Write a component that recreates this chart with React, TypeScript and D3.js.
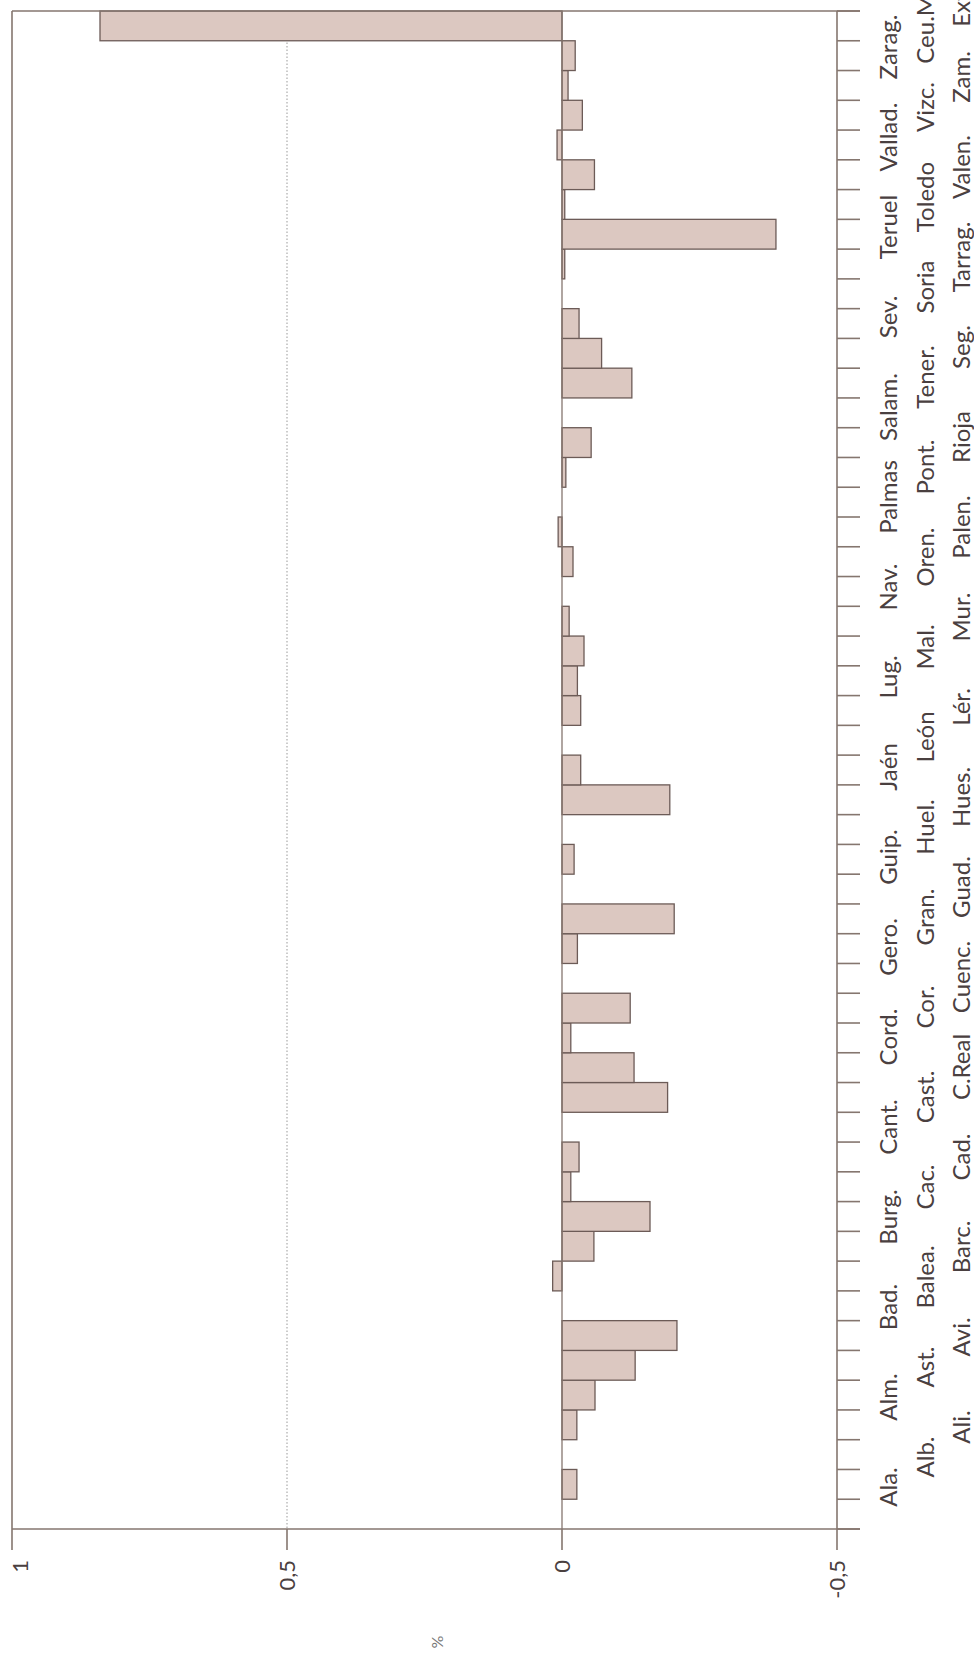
import * as d3 from 'd3'

// provinces, bottom (Ala.) to top (Extr.)
const provinces = [
  'Ala.', 'Alb.', 'Ali.', 'Alm.', 'Ast.', 'Avi.', 'Bad.', 'Balea.', 'Barc.', 'Burg.',
  'Cac.', 'Cad.', 'Cant.', 'Cast.', 'C.Real', 'Cord.', 'Cor.', 'Cuenc.', 'Gero.', 'Gran.',
  'Guad.', 'Guip.', 'Huel.', 'Hues.', 'Jaén', 'León', 'Lér.', 'Lug.', 'Mal.', 'Mur.',
  'Nav.', 'Oren.', 'Palen.', 'Palmas', 'Pont.', 'Rioja', 'Salam.', 'Tener.', 'Seg.', 'Sev.',
  'Soria', 'Tarrag.', 'Teruel', 'Toledo', 'Valen.', 'Vallad.', 'Vizc.', 'Zam.', 'Zarag.', 'Ceu.Mel.',
  'Extranj.',
]

// bar values, one per band from the bottom band up
const values = [
  0, -0.027, 0, -0.027, -0.06, -0.133, -0.209, 0, 0.017, -0.058,
  -0.16, -0.016, -0.031, 0, -0.192, -0.131, -0.016, -0.124, 0, -0.028,
  -0.204, 0, -0.022, 0, -0.196, -0.034, 0, -0.034, -0.028, -0.04,
  -0.013, 0, -0.02, 0.007, 0, -0.007, -0.053, 0, -0.127, -0.072,
  -0.031, 0, -0.005, -0.389, -0.005, -0.059, 0.009, -0.037, -0.011, -0.024,
  0.84,
]

const valueTicks = [1, 0.5, 0, -0.5]
const valueTickLabels = ['1', '0,5', '0', '-0,5']

const W = 974
const H = 1658
const plot = { left: 12, right: 837, top: 11, bottom: 1529 }
const tickLen = 23
const axisColor = '#85766f'
const textColor = '#4a4040'
const font = 'Lato, "Open Sans", sans-serif'

export default function App() {
  const x = d3.scaleLinear().domain([1, -0.5]).range([plot.left, plot.right])
  const bands = d3.range(values.length)
  const y = d3
    .scaleBand<number>()
    .domain([...bands].reverse())
    .range([plot.top, plot.bottom])
    .padding(0)
  // labels sit on their own, slightly wider pitch, as in the print
  const yLabel = d3
    .scalePoint<string>()
    .domain(provinces)
    .range([1487, 1487 - 30.0 * (provinces.length - 1)])

  const bw = y.bandwidth()
  const boundaries = bands.map((b) => y(b)!).concat([plot.bottom])
  const rowX = [897, 934, 970]

  return (
    <svg width={W} height={H} style={{ display: 'block', position: 'absolute', left: 0, top: 0 }}>
      <rect width={W} height={H} fill="#fff" />

      {/* dotted 0,5 gridline */}
      <line x1={x(0.5)} x2={x(0.5)} y1={plot.top} y2={plot.bottom} stroke="#999" strokeWidth={1} strokeDasharray="1.5,2" />

      {/* bars */}
      {bands.map((b) => {
        const v = values[b]
        if (v === 0) return null
        const x0 = Math.min(x(0), x(v))
        const w = Math.abs(x(v) - x(0))
        return (
          <rect key={b} x={x0} y={y(b)!} width={w} height={bw} fill="#dcc8c1" stroke="#6c5b57" strokeWidth={1.3} />
        )
      })}

      {/* frame and axes */}
      <line x1={plot.left} x2={plot.right + tickLen} y1={plot.top} y2={plot.top} stroke={axisColor} strokeWidth={1.6} />
      <line x1={plot.left} x2={plot.right + tickLen} y1={plot.bottom} y2={plot.bottom} stroke={axisColor} strokeWidth={1.6} />
      <line x1={x(0)} x2={x(0)} y1={plot.top} y2={plot.bottom} stroke={axisColor} strokeWidth={1.3} />
      {valueTicks.map((v) => (
        <line key={v} x1={x(v)} x2={x(v)} y1={v === 1 || v === -0.5 ? plot.top : plot.bottom} y2={plot.bottom + 21} stroke={axisColor} strokeWidth={1.6} />
      ))}
      {boundaries.map((b, i) => (
        <line key={i} x1={plot.right} x2={plot.right + tickLen} y1={b} y2={b} stroke={axisColor} strokeWidth={1.6} />
      ))}

      {/* value labels */}
      {valueTicks.map((v, i) => (
        <text
          key={v}
          transform={`translate(${Math.max(x(v), 20)},${plot.bottom + 31}) rotate(-90)`}
          textAnchor="end"
          dy="0.36em"
          fontFamily={font}
          fontSize={22}
          fill={textColor}
        >
          {valueTickLabels[i]}
        </text>
      ))}
      <text
        transform={`translate(${x(0.5) + 150},${1642}) rotate(-90)`}
        textAnchor="middle"
        dy="0.36em"
        fontFamily={font}
        fontSize={16}
        fill="#777"
      >
        %
      </text>

      {/* province labels in three staggered rows */}
      {provinces.map((p, i) => (
        <text
          key={p}
          transform={`translate(${rowX[i % 3]},${yLabel(p)!}) rotate(-90)`}
          textAnchor="middle"
          fontFamily={font}
          fontSize={24}
          fill={textColor}
        >
          {p}
        </text>
      ))}
    </svg>
  )
}
